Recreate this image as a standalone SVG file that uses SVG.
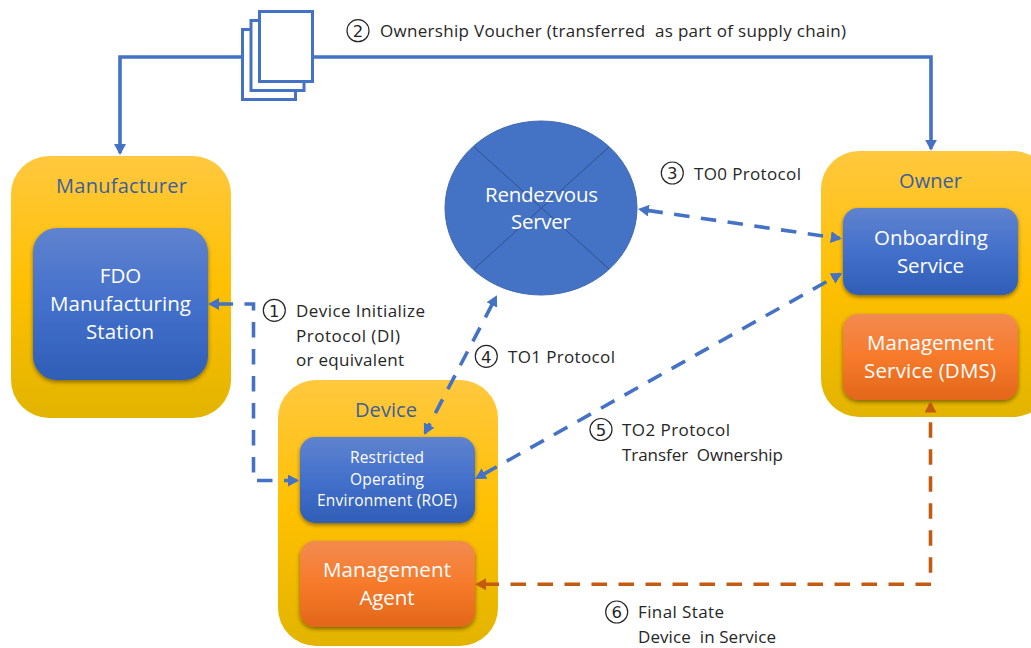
<svg xmlns="http://www.w3.org/2000/svg" width="1031" height="648" viewBox="0 0 1031 648">
<style>
text{font-family:"Open Sans","Noto Sans","Liberation Sans",sans-serif;white-space:pre}
.t{font-size:17px;fill:#262626}
.n{font-size:16.5px;fill:#262626;font-family:"DejaVu Sans",sans-serif;text-anchor:middle}
.c{stroke:#262626;stroke-width:1.2;fill:none}
.h{font-size:20px;fill:#3B5F9E;text-anchor:middle}
.w{font-size:20.5px;fill:#fff;text-anchor:middle}
.s{font-size:15.500px;fill:#fff;text-anchor:middle}
.blue{stroke:#4472C4;stroke-width:3.6;fill:none}
.dash{stroke-dasharray:15.5 11.5;stroke-dashoffset:19.5}
.or{stroke:#C55A11;stroke-width:3.6;fill:none;stroke-dasharray:15.5 11.5}
.doc{fill:#fff;stroke:#4472C4;stroke-width:3}
.x{stroke:#2F528F;stroke-width:1}
</style>
<defs>
<linearGradient id="amber" x1="0" y1="0" x2="0" y2="1"><stop offset="0" stop-color="#FFC83F"/><stop offset=".5" stop-color="#FFC000"/><stop offset="1" stop-color="#E2B400"/></linearGradient>
<linearGradient id="bl" x1="0" y1="0" x2="0" y2="1"><stop offset="0" stop-color="#5F83CE"/><stop offset=".5" stop-color="#4370CB"/><stop offset="1" stop-color="#2F5EB6"/></linearGradient>
<linearGradient id="og" x1="0" y1="0" x2="0" y2="1"><stop offset="0" stop-color="#F28B50"/><stop offset=".5" stop-color="#F77A2B"/><stop offset="1" stop-color="#E2671A"/></linearGradient>
<filter id="sh" x="-10%" y="-10%" width="120%" height="125%"><feDropShadow dx="0" dy="2" stdDeviation="2" flood-color="#000" flood-opacity=".45"/></filter>
<marker id="ab" viewBox="0 0 11 12" refX="9" refY="6" markerWidth="11" markerHeight="12" markerUnits="userSpaceOnUse" orient="auto-start-reverse"><path d="M0 0L11 6L0 12z" fill="#4472C4"/></marker>
<marker id="ao" viewBox="0 0 11 12" refX="9" refY="6" markerWidth="11" markerHeight="12" markerUnits="userSpaceOnUse" orient="auto-start-reverse"><path d="M0 0L11 6L0 12z" fill="#C55A11"/></marker>
</defs>

<g id="manufacturer">
<rect x="11" y="156" width="220" height="262" rx="38" fill="url(#amber)"/>
<text class="h" x="121.500" y="192.500" textLength="131">Manufacturer</text>
</g>
<g id="fdo-station">
<rect x="33" y="228" width="175" height="152" rx="24" fill="url(#bl)" filter="url(#sh)"/>
<text class="w" x="120.500" y="283">FDO</text>
<text class="w" x="120.500" y="311" textLength="141">Manufacturing</text>
<text class="w" x="120" y="339" textLength="68">Station</text>
</g>
<g id="device">
<rect x="278" y="380" width="220" height="266" rx="38" fill="url(#amber)"/>
<text class="h" x="386" y="416.500" textLength="62">Device</text>
</g>
<g id="roe">
<rect x="300" y="437" width="175" height="86" rx="15" fill="url(#bl)" filter="url(#sh)"/>
<text class="s" x="387" y="463" textLength="74">Restricted</text>
<text class="s" x="387" y="485" textLength="74">Operating</text>
<text class="s" x="387" y="506" textLength="140">Environment (ROE)</text>
</g>
<g id="management-agent">
<rect x="300" y="541" width="175" height="86" rx="15" fill="url(#og)" filter="url(#sh)"/>
<text class="w" x="387" y="577" textLength="128">Management</text>
<text class="w" x="387" y="605" textLength="55">Agent</text>
</g>
<g id="owner">
<rect x="821" y="151" width="230" height="266" rx="38" fill="url(#amber)"/>
<text class="h" x="930.500" y="187.500" textLength="63">Owner</text>
</g>
<g id="onboarding-service">
<rect x="843" y="208" width="175" height="87" rx="15" fill="url(#bl)" filter="url(#sh)"/>
<text class="w" x="931" y="245" textLength="114">Onboarding</text>
<text class="w" x="930.500" y="273" textLength="67">Service</text>
</g>
<g id="management-service">
<rect x="843" y="314" width="175" height="86" rx="15" fill="url(#og)" filter="url(#sh)"/>
<text class="w" x="930.500" y="350" textLength="127">Management</text>
<text class="w" x="930" y="378" textLength="132">Service (DMS)</text>
</g>
<g id="rendezvous-server">
<ellipse cx="541" cy="208" rx="96" ry="87" fill="#4472C4" stroke="#4069B5"/>
<path class="x" d="M474 147L609 269M609 147L474 269"/>
<text class="w" x="541.500" y="202" textLength="113">Rendezvous</text>
<text class="w" x="541" y="229" textLength="60">Server</text>
</g>

<g id="connectors">
<path class="blue" d="M242 57H120V153" marker-end="url(#ab)"/>
<path class="blue" d="M313 57H931V148.700" marker-end="url(#ab)"/>
<path class="blue dash" d="M210 304H253.500V480.500H297" marker-start="url(#ab)" marker-end="url(#ab)"/>
<path class="blue dash" d="M640 209.300L839.700 238.400" marker-start="url(#ab)" marker-end="url(#ab)"/>
<path class="blue dash" d="M496 297L425 433" marker-start="url(#ab)" marker-end="url(#ab)"/>
<path class="blue dash" d="M476.700 478L840.300 274" marker-start="url(#ab)" marker-end="url(#ab)"/>
<path class="or" d="M931 584.300H477" marker-end="url(#ao)"/>
<path class="or" d="M930.500 584.300V403.500" stroke-dashoffset="15.5" marker-end="url(#ao)"/>
</g>

<g id="ownership-voucher">
<rect class="doc" x="242.500" y="29.500" width="53" height="70"/>
<rect class="doc" x="251" y="20.500" width="53" height="70"/>
<rect class="doc" x="259.500" y="11.500" width="53" height="70"/>
</g>

<g id="labels">
<circle class="c" cx="358" cy="30.700" r="11"/><text class="n" x="358" y="37">2</text>
<text class="t" x="380" y="37" textLength="466">Ownership Voucher (transferred  as part of supply chain)</text>
<circle class="c" cx="672.300" cy="173" r="11"/><text class="n" x="672.300" y="179">3</text>
<text class="t" x="694" y="180" textLength="107">TO0 Protocol</text>
<circle class="c" cx="274.300" cy="310.300" r="11"/><text class="n" x="274.300" y="316.500">1</text>
<text class="t" x="296" y="317" textLength="129">Device Initialize</text>
<text class="t" x="296" y="342" textLength="104">Protocol (DI)</text>
<text class="t" x="296" y="366" textLength="108">or equivalent</text>
<circle class="c" cx="486.300" cy="356.300" r="11"/><text class="n" x="486.300" y="362.500">4</text>
<text class="t" x="508" y="363" textLength="107">TO1 Protocol</text>
<circle class="c" cx="601" cy="429.500" r="11"/><text class="n" x="601" y="435.700">5</text>
<text class="t" x="622" y="436" textLength="108">TO2 Protocol</text>
<text class="t" x="622" y="461" textLength="161">Transfer  Ownership</text>
<circle class="c" cx="616.700" cy="612" r="11"/><text class="n" x="616.700" y="618">6</text>
<text class="t" x="638" y="618" textLength="86">Final State</text>
<text class="t" x="638" y="643" textLength="138">Device  in Service</text>
</g>
</svg>
